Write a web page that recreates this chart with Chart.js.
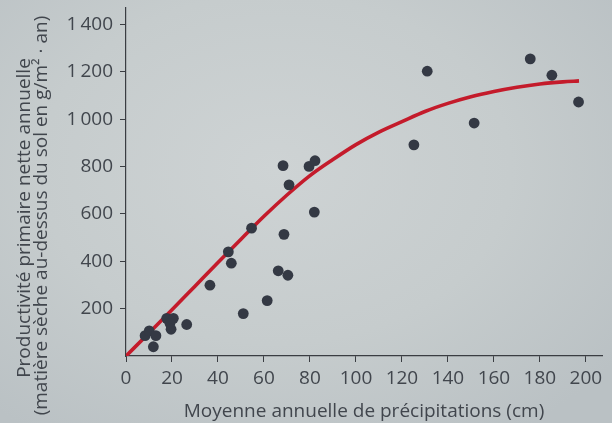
<!DOCTYPE html>
<html><head><meta charset="utf-8">
<script src="https://cdn.jsdelivr.net/npm/chart.js@4.4.1/dist/chart.umd.min.js"></script>
<style>
html,body{margin:0;padding:0;width:612px;height:423px;overflow:hidden;
background: radial-gradient(ellipse 70% 75% at 45% 40%, #ced3d4 0%, #c6cccd 55%, #bac1c4 100%);}
canvas{display:block;}
</style></head><body>
<canvas id="c" width="612" height="423"></canvas>
<script>
// Data
const precipitation = [8.3, 10.1, 13, 11.9, 17.7, 20.6, 19.1, 19.6, 26.4, 36.5, 44.5, 45.8, 51, 54.6, 61.4, 66.2, 68.7, 70.4, 68.3, 70.9, 79.6, 82.2, 81.9, 125.2, 131, 151.4, 175.8, 185.2, 196.8];
const productivity  = [86, 106, 86, 39, 159, 159, 138, 113, 133, 299, 440, 392, 179, 540, 234, 360, 514, 341, 804, 723, 801, 825, 608, 892, 1203, 984, 1255, 1186, 1073];
const curveX = [0, 10, 20, 30, 40, 50, 60, 70, 80, 90, 100, 110, 120, 130, 140, 150, 160, 170, 180, 190, 197];
const curveY = [0, 97, 195, 295, 395, 493, 590, 680, 762, 830, 893, 946, 990, 1033, 1067, 1095, 1117, 1135, 1149, 1158, 1162];
const xTicks = [0, 20, 40, 60, 80, 100, 120, 140, 160, 180, 200];
const yTicks = [200, 400, 600, 800, 1000, 1200, 1400];
const xTitle = 'Moyenne annuelle de précipitations (cm)';
const yTitle = ['Productivité primaire nette annuelle', '(matière sèche au-dessus du sol en g/m² · an)'];

const FONT = '"Open Sans", "Noto Sans", sans-serif';
const TXT = '#41464d';
const AX = '#3a3d42';

const pts = precipitation.map((x, i) => ({x, y: productivity[i]}));
const curve = curveX.map((x, i) => ({x, y: curveY[i]}));

const fmt = v => String(v).replace(/\B(?=(\d{3})+(?!\d))/g, '\u2009');

// Two-line rotated y-axis title, centred on the full canvas height (as in the reference)
const yTitlePlugin = {
  id: 'yTitle',
  afterDraw(chart) {
    const ctx = chart.ctx;
    ctx.save();
    ctx.fillStyle = TXT;
    ctx.font = '19px ' + FONT;
    ctx.textAlign = 'center';
    ctx.textBaseline = 'alphabetic';
    const baselines = [30, 47];
    const centres = [218, 215.5];
    yTitle.forEach((line, i) => {
      ctx.save();
      ctx.translate(baselines[i], centres[i]);
      ctx.rotate(-Math.PI / 2);
      ctx.fillText(line, 0, 0);
      ctx.restore();
    });
    ctx.restore();
  }
};

new Chart(document.getElementById('c'), {
  type: 'scatter',
  data: {
    datasets: [
      {data: pts, order: 0, backgroundColor: '#343944', borderWidth: 0, pointRadius: 5.4, pointHoverRadius: 5.4},
      {type: 'line', data: curve, order: 1, showLine: true, borderColor: '#c41b2b', borderWidth: 3.6,
       pointRadius: 0, fill: false, tension: 0.4, cubicInterpolationMode: 'monotone', borderCapStyle: 'butt'}
    ]
  },
  plugins: [yTitlePlugin],
  options: {
    responsive: false, animation: false, devicePixelRatio: 1,
    layout: {padding: {left: 0, right: 10, top: 8, bottom: 0}},
    plugins: {legend: {display: false}, tooltip: {enabled: false}},
    scales: {
      x: {
        type: 'linear', min: 0, max: 207,
        afterBuildTicks: s => { s.ticks = xTicks.map(v => ({value: v})); },
        afterFit: s => { s.height = 67; s.paddingLeft = 0; s.paddingRight = 0; },
        border: {display: true, color: AX, width: 1.2},
        grid: {drawOnChartArea: false, drawTicks: true, tickLength: 6, color: AX, lineWidth: 1},
        ticks: {color: TXT, font: {family: FONT, size: 19}, padding: 5, maxRotation: 0, autoSkip: false, callback: v => fmt(v)},
        title: {display: true, text: xTitle, color: TXT, font: {family: FONT, size: 19}, padding: {top: 0, bottom: 0}}
      },
      y: {
        type: 'linear', min: 0, max: 1470,
        afterBuildTicks: s => { s.ticks = yTicks.map(v => ({value: v})); },
        afterFit: s => { s.width = 126; s.paddingTop = 0; s.paddingBottom = 0; },
        border: {display: true, color: AX, width: 1.2},
        grid: {drawOnChartArea: false, drawTicks: true, tickLength: 6, color: AX, lineWidth: 1},
        ticks: {color: TXT, font: {family: FONT, size: 19}, padding: 7, autoSkip: false, callback: v => fmt(v)},
        title: {display: false}
      }
    }
  }
});
</script>
</body></html>
